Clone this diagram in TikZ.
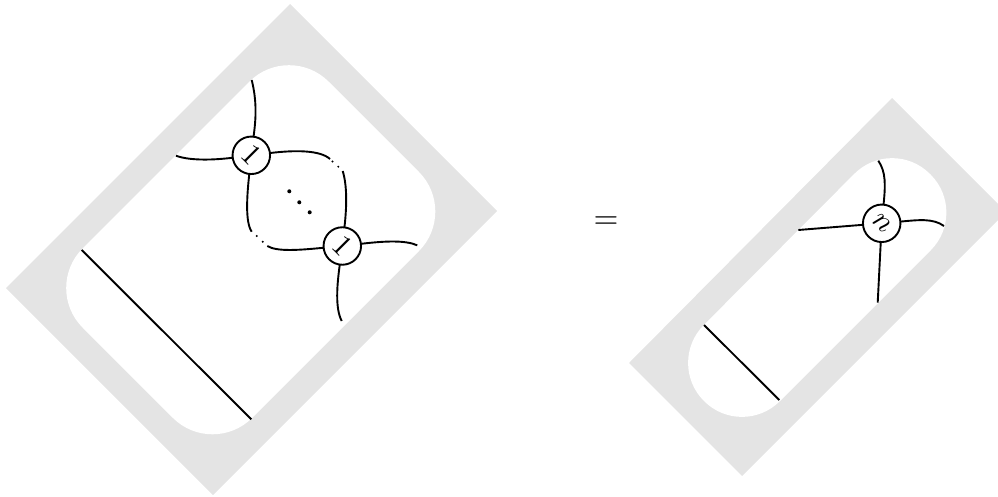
\documentclass[tikz,border=0pt]{standalone}
\definecolor{framegray}{HTML}{E4E4E4}
\tikzset{
  frameshape/.style={fill=framegray,draw=none},
  holeshape/.style={fill=white,draw=none},
  wire/.style={line width=1.9pt,black},
  vertex/.style={circle,draw=black,line width=1.9pt,fill=white,minimum size=37.5pt,inner sep=0pt,outer sep=0pt},
  bigdot/.style={circle,fill=black,inner sep=0pt,minimum size=4pt},
  smalldot/.style={circle,fill=black,inner sep=0pt,minimum size=2.2pt},
  rotlabel/.style={scale=3,rotate=-45}
}
\begin{document}
\begin{tikzpicture}[x=1pt,y=-1pt]
\useasboundingbox (0,0) rectangle (998,497);
\clip (0,0) rectangle (998,497);
% left frame
\fill[frameshape] (290,4) -- (497,211) -- (213,495) -- (6,288) -- cycle;
\fill[holeshape,rounded corners=56pt] (289,42) -- (458.5,211.5) -- (212.5,457.5) -- (43,288) -- cycle;
% right frame
\fill[frameshape] (892,98) -- (1006,212) -- (742,476) -- (629,363) -- cycle;
\fill[holeshape,rounded corners=53.4pt] (892,136) -- (968.5,212.5) -- (742,439) -- (666,363) -- cycle;
% left picture
\node[vertex] (a) at (251.3,155.3) {};
\node[rotlabel] (alab) at (a) {$1$};
\node[vertex] (b) at (342.3,246) {};
\node[rotlabel] (blab) at (b) {$1$};
\coordinate (atop) at (251.7,80);
\coordinate (aleft) at (176,155.7);
\coordinate (artail) at (330,159);
\coordinate (brtail) at (342.7,171);
\coordinate (abtail) at (251.7,231.7);
\coordinate (bltail) at (267.3,246);
\coordinate (bright) at (417.3,245.3);
\coordinate (bbot) at (341.7,321);
\draw[wire] (a) .. controls (255,125) and (258,105) .. (atop);
\draw[wire] (a) .. controls (215,160) and (190,161) .. (aleft);
\draw[wire] (a) .. controls (295,150) and (320,150) .. (artail);
\draw[wire] (b) .. controls (347,205) and (347,185) .. (brtail);
\draw[wire] (a) .. controls (247,195) and (245,222) .. (abtail);
\draw[wire] (b) .. controls (300,250) and (277,252) .. (bltail);
\draw[wire] (b) .. controls (385,241) and (405,240) .. (bright);
\draw[wire] (b) .. controls (337,285) and (335,308) .. (bbot);
\node[smalldot] (d1) at (332.5,161.5) {};
\node[smalldot] (d2) at (338.3,166.7) {};
\node[smalldot] (d3) at (256.7,236) {};
\node[smalldot] (d4) at (262.7,241.7) {};
\node[bigdot] (c1) at (289.3,191.3) {};
\node[bigdot] (c2) at (299.3,202.3) {};
\node[bigdot] (c3) at (309.7,212.3) {};
\coordinate (l1) at (81.7,250);
\coordinate (l2) at (251.3,419.3);
\draw[wire] (l1) -- (l2);
% equals
\node[scale=3.2] (eq) at (606,223) {$=$};
% right picture
\node[vertex] (n) at (881.7,223.3) {};
\node[rotlabel] (nlab) at (n) {$n$};
\coordinate (ntop) at (878.3,160.7);
\coordinate (nleft) at (798.3,230);
\coordinate (nright) at (944,226);
\coordinate (nbot) at (877.7,302.7);
\draw[wire] (n) .. controls (885.5,185) and (886,172) .. (ntop);
\draw[wire] (n) -- (nleft);
\draw[wire] (n) .. controls (918,220) and (933,218) .. (nright);
\draw[wire] (n) -- (nbot);
\coordinate (m1) at (704,325);
\coordinate (m2) at (779.3,400);
\draw[wire] (m1) -- (m2);
\end{tikzpicture}
\end{document}
